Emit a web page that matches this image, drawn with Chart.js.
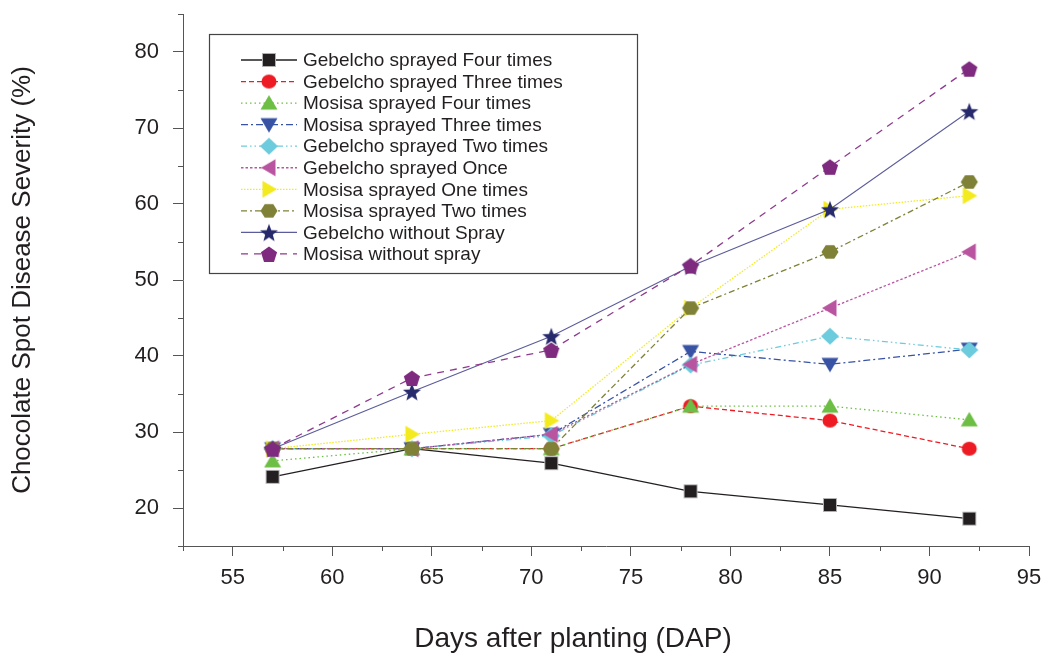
<!DOCTYPE html>
<html>
<head>
<meta charset="utf-8">
<script src="https://cdn.jsdelivr.net/npm/chart.js@4.4.0/dist/chart.umd.min.js"></script>
<style>
html, body { margin: 0; padding: 0; background: #fff; }
</style>
</head>
<body>
<canvas id="myChart" width="1043" height="655"></canvas>
<script>
// days after planting
var days = [57, 64, 71, 78, 85, 92];

var seriesNames = [
    "Gebelcho sprayed Four times",
    "Gebelcho sprayed Three times",
    "Mosisa sprayed Four times",
    "Mosisa sprayed Three times",
    "Gebelcho sprayed Two times",
    "Gebelcho sprayed Once",
    "Mosisa sprayed One times",
    "Mosisa sprayed Two times",
    "Gebelcho without Spray",
    "Mosisa without spray"
];

var gebelchoFour  = [24.1, 27.8, 25.9, 22.2, 20.4, 18.6];
var gebelchoThree = [27.8, 27.8, 27.8, 33.4, 31.5, 27.8];
var mosisaFour    = [26.2, 27.8, 27.8, 33.4, 33.4, 31.6];
var mosisaThree   = [27.8, 27.8, 29.7, 40.6, 38.9, 40.9];
var gebelchoTwo   = [27.8, 27.8, 29.5, 38.8, 42.6, 40.8];
var gebelchoOnce  = [27.8, 27.8, 29.7, 38.9, 46.3, 53.7];
var mosisaOne     = [27.8, 29.7, 31.5, 46.3, 59.3, 61.1];
var mosisaTwo     = [27.8, 27.8, 27.8, 46.3, 53.7, 62.9];
var gebelchoNone  = [27.8, 35.3, 42.6, 51.8, 59.3, 72.2];
var mosisaNone    = [27.8, 37.1, 40.8, 51.9, 64.9, 77.8];

var xTicks = [55, 60, 65, 70, 75, 80, 85, 90, 95];
var xMinorTicks = [52.5, 57.5, 62.5, 67.5, 72.5, 77.5, 82.5, 87.5, 92.5];
var yTicks = [20, 30, 40, 50, 60, 70, 80];
var yMinorTicks = [15, 25, 35, 45, 55, 65, 75, 85];

var xTitle = "Days after planting (DAP)";
var yTitle = "Chocolate Spot Disease Severity (%)";

var FONT = '"Liberation Sans", Arial, sans-serif';
var TEXT = '#231f20';

// marker images
function marker(kind, color) {
    var c = document.createElement('canvas');
    c.width = 22; c.height = 22;
    var g = c.getContext('2d');
    var m = 11;
    g.fillStyle = color;
    g.beginPath();
    if (kind == 'square') {
        g.rect(m - 6.5, m - 6.5, 13, 13);
    } else if (kind == 'circle') {
        g.ellipse(m, m, 7.5, 7, 0, 0, Math.PI * 2);
    } else if (kind == 'up') {
        g.moveTo(m, m - 8); g.lineTo(m + 8.5, m + 6.5); g.lineTo(m - 8.5, m + 6.5);
    } else if (kind == 'down') {
        g.moveTo(m, m + 8); g.lineTo(m + 8.5, m - 6.5); g.lineTo(m - 8.5, m - 6.5);
    } else if (kind == 'left') {
        g.moveTo(m - 8, m); g.lineTo(m + 6.5, m - 8.5); g.lineTo(m + 6.5, m + 8.5);
    } else if (kind == 'right') {
        g.moveTo(m + 8, m); g.lineTo(m - 6.5, m - 8.5); g.lineTo(m - 6.5, m + 8.5);
    } else if (kind == 'diamond') {
        g.moveTo(m, m - 8.5); g.lineTo(m + 9, m); g.lineTo(m, m + 8.5); g.lineTo(m - 9, m);
    } else if (kind == 'hexagon') {
        for (var i = 0; i < 6; i++) {
            var a = i * Math.PI / 3;
            g.lineTo(m + 8.5 * Math.cos(a), m + 7.8 * Math.sin(a));
        }
    } else if (kind == 'pentagon') {
        for (var i = 0; i < 5; i++) {
            var a = -Math.PI / 2 + i * 2 * Math.PI / 5;
            g.lineTo(m + 8.5 * Math.cos(a), m + 1 + 8.5 * Math.sin(a));
        }
    } else if (kind == 'star') {
        for (var i = 0; i < 10; i++) {
            var a = -Math.PI / 2 + i * Math.PI / 5;
            var r = i % 2 ? 4 : 9.5;
            g.lineTo(m + r * Math.cos(a), m + 1 + r * Math.sin(a));
        }
    }
    g.closePath();
    g.fill();
    if (kind == 'square') {
        g.strokeStyle = '#b0b0b0'; g.lineWidth = 1; g.stroke();
    }
    return c;
}

function pts(values) {
    return days.map(function(d, i) { return { x: d, y: values[i] }; });
}

var seriesValues = [gebelchoFour, gebelchoThree, mosisaFour, mosisaThree, gebelchoTwo,
    gebelchoOnce, mosisaOne, mosisaTwo, gebelchoNone, mosisaNone];
var lineColors = ['#231f20', '#ed1c24', '#6dbe45', '#3853a4', '#6ccbdc',
    '#b955a0', '#f3eb1f', '#7f8136', '#5b5c9c', '#8e3a8e'];
var markColors = ['#231f20', '#ed1c24', '#6dbe45', '#3853a4', '#6ccbdc',
    '#b955a0', '#f3eb1f', '#7f8136', '#26296b', '#7e2a7e'];
var markKinds = ['square', 'circle', 'up', 'down', 'diamond', 'left', 'right', 'hexagon', 'star', 'pentagon'];
var dashes = [[], [5, 3], [1.5, 3], [7, 3, 2, 3], [6, 3, 1.5, 3, 1.5, 3],
    [2.5, 2], [1.5, 1.5], [6, 3, 2, 3], [], [7, 6]];

var datasets = seriesNames.map(function(name, i) {
    return {
        label: name,
        data: pts(seriesValues[i]),
        borderColor: lineColors[i],
        backgroundColor: markColors[i],
        borderWidth: i == 8 ? 1.1 : 1.3,
        borderDash: dashes[i],
        pointStyle: marker(markKinds[i], markColors[i]),
        pointRadius: 7,
        order: -i,
        tension: 0,
        fill: false
    };
});

// minor ticks, x title, legend box
var extras = {
    id: 'extras',
    afterDraw: function(chart) {
        var ctx = chart.ctx, xs = chart.scales.x, ys = chart.scales.y, area = chart.chartArea;
        ctx.save();
        ctx.strokeStyle = '#555';
        ctx.lineWidth = 1;
        ctx.beginPath();
        xMinorTicks.forEach(function(v) {
            var px = Math.round(xs.getPixelForValue(v)) + 0.5;
            ctx.moveTo(px, area.bottom);
            ctx.lineTo(px, area.bottom + 5);
        });
        yMinorTicks.forEach(function(v) {
            var py = Math.round(ys.getPixelForValue(v)) + 0.5;
            ctx.moveTo(area.left - 5, py);
            ctx.lineTo(area.left, py);
        });
        ctx.stroke();

        ctx.fillStyle = TEXT;
        ctx.font = '28px ' + FONT;
        ctx.textAlign = 'center';
        ctx.textBaseline = 'middle';
        ctx.fillText(xTitle, 573, 639);

        // legend
        ctx.strokeStyle = '#444';
        ctx.lineWidth = 1.2;
        ctx.strokeRect(209.5, 34.5, 428, 239);
        ctx.font = '19px ' + FONT;
        ctx.textAlign = 'left';
        chart.data.datasets.forEach(function(ds, i) {
            var y = 60 + i * 21.55;
            ctx.strokeStyle = ds.borderColor;
            ctx.lineWidth = ds.borderWidth;
            ctx.setLineDash(ds.borderDash);
            ctx.beginPath();
            ctx.moveTo(241, y);
            ctx.lineTo(297, y);
            ctx.stroke();
            ctx.setLineDash([]);
            var im = ds.pointStyle;
            ctx.drawImage(im, 269 - im.width / 2, y - im.height / 2);
            ctx.fillStyle = TEXT;
            ctx.fillText(ds.label, 303, y + 1);
        });
        ctx.restore();
    }
};

var ctx = document.getElementById('myChart').getContext('2d');
var chart = new Chart(ctx, {
    type: 'line',
    data: { datasets: datasets },
    plugins: [extras],
    options: {
        responsive: false,
        animation: false,
        layout: { padding: { top: 14, right: 14, left: 0, bottom: 0 } },
        plugins: {
            legend: { display: false },
            tooltip: { enabled: false }
        },
        scales: {
            x: {
                type: 'linear',
                min: 52.5,
                max: 95,
                afterBuildTicks: function(s) { s.ticks = xTicks.map(function(v) { return { value: v }; }); },
                afterFit: function(s) { s.height = 109; s.paddingLeft = 0; s.paddingRight = 0; },
                grid: { drawOnChartArea: false, drawTicks: true, tickLength: 10, color: '#555' },
                border: { display: true, color: '#555', width: 1 },
                ticks: { font: { family: FONT, size: 22 }, color: TEXT, padding: 9, maxRotation: 0, autoSkip: false }
            },
            y: {
                min: 15,
                max: 85,
                afterBuildTicks: function(s) { s.ticks = yTicks.map(function(v) { return { value: v }; }); },
                afterFit: function(s) { s.width = 183; s.paddingTop = 0; s.paddingBottom = 0; },
                grid: { drawOnChartArea: false, drawTicks: true, tickLength: 10, color: '#555' },
                border: { display: true, color: '#555', width: 1 },
                ticks: { font: { family: FONT, size: 22 }, color: TEXT, padding: 14, autoSkip: false },
                title: {
                    display: true,
                    text: yTitle,
                    font: { family: FONT, size: 26 },
                    color: TEXT,
                    padding: { top: 7, bottom: 0 }
                }
            }
        }
    }
});
</script>
</body>
</html>
